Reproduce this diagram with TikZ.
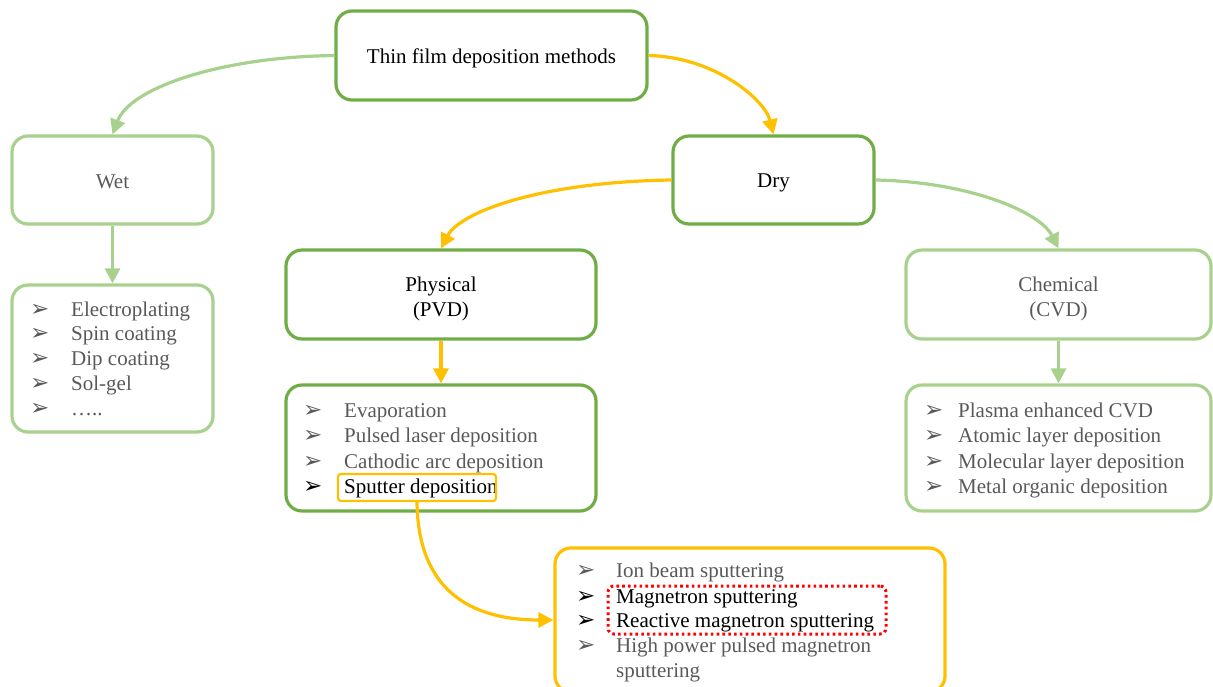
\documentclass[tikz,border=0pt]{standalone}
\usepackage{fontspec}
\setmainfont{Liberation Serif}
\newfontfamily\dvfont{DejaVu Sans}
\usetikzlibrary{arrows.meta,calc}
\definecolor{dkgreen}{HTML}{70AD47}
\definecolor{ltgreen}{HTML}{A9D18E}
\definecolor{orng}{HTML}{FFC000}
\definecolor{txtgray}{HTML}{595959}
\definecolor{dotred}{HTML}{FF0000}
\tikzset{
  every node/.style={font=\fontsize{21}{25}\selectfont},
  boxbase/.style={line width=3.2pt, rounded corners=16pt, inner sep=0pt},
  dkbox/.style={boxbase, draw=dkgreen},
  ltbox/.style={boxbase, draw=ltgreen},
  orbox/.style={boxbase, draw=orng},
  ttl/.style={inner sep=0pt, align=center, yshift=-3pt},
  itm/.style={anchor=base west, inner sep=0pt, text=txtgray},
  itmk/.style={anchor=base west, inner sep=0pt, text=black},
  bul/.style={anchor=base west, inner sep=0pt, text=txtgray, font=\dvfont\fontsize{23}{23}\selectfont},
  bulk/.style={bul, text=black},
  ltarr/.style={draw=ltgreen, line width=3.2pt, -{Triangle[length=15pt,width=15pt]}},
  orarr/.style={draw=orng, line width=3.2pt, -{Triangle[length=15pt,width=15pt]}},
}
\begin{document}
\begin{tikzpicture}[x=1pt,y=-1pt]
\useasboundingbox (0,0) rectangle (1213,687);
% main boxes
\node[dkbox, minimum width=311pt, minimum height=89pt] (top) at (491.5,55.5) {};
\node[ttl] (topt) at (top.center) {Thin film deposition methods};
\node[ltbox, minimum width=201pt, minimum height=88pt] (wet) at (112.5,180) {};
\node[ttl, text=txtgray, yshift=1pt] (wett) at (wet.center) {Wet};
\node[dkbox, minimum width=201pt, minimum height=88pt] (dry) at (773.5,180) {};
\node[ttl] (dryt) at (dry.center) {Dry};
\node[dkbox, minimum width=310pt, minimum height=89pt] (phys) at (441,294.5) {};
\node[ttl, yshift=-1pt] (physt) at (phys.center) {Physical\\(PVD)};
\node[ltbox, minimum width=305pt, minimum height=89pt] (chem) at (1058.5,294.5) {};
\node[ttl, text=txtgray, yshift=-1pt] (chemt) at (chem.center) {Chemical\\(CVD)};
% list boxes
\node[ltbox, minimum width=201pt, minimum height=147pt] (wetl) at (112.5,358.5) {};
\node[dkbox, minimum width=310pt, minimum height=126pt] (physl) at (441,448) {};
\node[ltbox, minimum width=305pt, minimum height=126pt] (cheml) at (1058.5,448) {};
\node[orbox, minimum width=390pt, minimum height=144pt] (spl) at (750,620) {};
% wet list
\node[bul] (wb1) at (30,316) {➢}; \node[itm] (wt1) at (71,316) {Electroplating};
\node[bul] (wb2) at (30,340.5) {➢}; \node[itm] (wt2) at (71,340.5) {Spin coating};
\node[bul] (wb3) at (30,365) {➢}; \node[itm] (wt3) at (71,365) {Dip coating};
\node[bul] (wb4) at (30,390) {➢}; \node[itm] (wt4) at (71,390) {Sol-gel};
\node[bul] (wb5) at (30,415) {➢}; \node[itm] (wt5) at (71,415) {…..};
% pvd list
\node[bul] (pb1) at (303,417) {➢}; \node[itm] (pt1) at (344,417) {Evaporation};
\node[bul] (pb2) at (303,442.5) {➢}; \node[itm] (pt2) at (344,442.5) {Pulsed laser deposition};
\node[bul] (pb3) at (303,468) {➢}; \node[itm] (pt3) at (344,468) {Cathodic arc deposition};
\node[bulk] (pb4) at (303,493) {➢}; \node[itmk] (pt4) at (344,493) {Sputter deposition};
\node[draw=orng, line width=2.2pt, rounded corners=3pt, minimum width=158pt, minimum height=27pt, inner sep=0pt] (sph) at (417,487.5) {};
% cvd list
\node[bul] (cb1) at (924,417) {➢}; \node[itm] (ct1) at (958,417) {Plasma enhanced CVD};
\node[bul] (cb2) at (924,442.5) {➢}; \node[itm] (ct2) at (958,442.5) {Atomic layer deposition};
\node[bul] (cb3) at (924,468) {➢}; \node[itm] (ct3) at (958,468) {Molecular layer deposition};
\node[bul] (cb4) at (924,493) {➢}; \node[itm] (ct4) at (958,493) {Metal organic deposition};
% sputtering list
\node[bul] (sb1) at (576,577) {➢}; \node[itm] (st1) at (616,577) {Ion beam sputtering};
\node[bulk] (sb2) at (576,603) {➢}; \node[itmk] (st2) at (616,603) {Magnetron sputtering};
\node[bulk] (sb3) at (576,627.5) {➢}; \node[itmk] (st3) at (616,627.5) {Reactive magnetron sputtering};
\node[bul] (sb4) at (576,652.5) {➢}; \node[itm] (st4) at (616,652.5) {High power pulsed magnetron};
\node[itm] (st5) at (616,677.5) {sputtering};
\node[draw=dotred, line width=3pt, dash pattern=on 2.6pt off 3.2pt, rounded corners=6pt, minimum width=278pt, minimum height=48pt, inner sep=0pt] (red) at (747,610) {};
% connectors
\draw[ltarr] (top.west) .. controls (220,57) and (130,88) .. (wet.north);
\draw[orarr] (top.east) .. controls (715,57) and (765,100) .. (dry.north);
\draw[ltarr] (wet.south) -- (wetl.north);
\draw[orarr] (dry.west) .. controls (540,182) and (460,212) .. (phys.north);
\draw[ltarr] (dry.east) .. controls (970,182) and (1040,212) .. (chem.north);
\draw[orarr] (phys.south) -- (physl.north);
\draw[ltarr] (chem.south) -- (cheml.north);
\draw[orarr] (sph.south) .. controls (418,590) and (470,620) .. (spl.west);
\end{tikzpicture}
\end{document}
